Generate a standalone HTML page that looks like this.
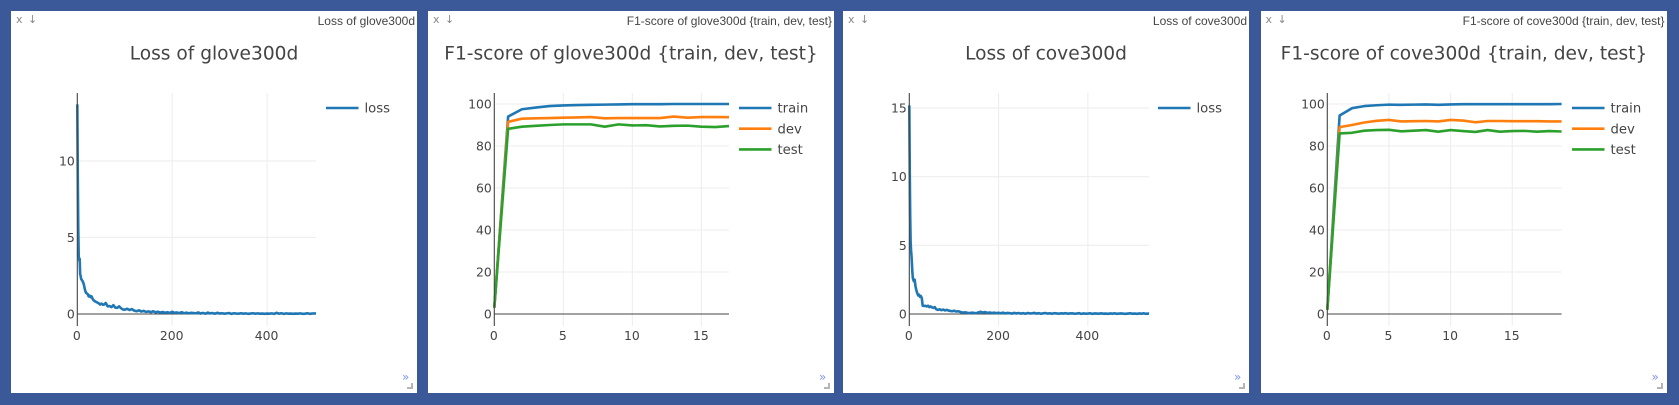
<!DOCTYPE html>
<html lang="en">
<head>
<meta charset="utf-8">
<title>Loss and F1-score charts</title>
<style>
html,body{margin:0;padding:0;width:1679px;height:405px;overflow:hidden;background:#3b5998;}
.panel{position:absolute;top:11px;width:406px;height:382px;background:#fff;overflow:hidden;}
.panel svg{position:absolute;left:0;top:0;width:406px;height:382px;}
.win-close,.win-down{position:absolute;top:2px;font:11px "DejaVu Sans",sans-serif;color:#888;cursor:pointer;}
.win-close{left:5px;}
.win-down{left:17px;}
.win-title{position:absolute;right:2px;top:3px;font:12px "Liberation Sans",sans-serif;color:#444;white-space:nowrap;}
.win-more{position:absolute;left:391px;top:359px;font:12px "DejaVu Sans",sans-serif;color:#8296ee;line-height:14px;cursor:pointer;}
.win-grip{position:absolute;left:396px;top:372px;width:4px;height:4px;border-right:2px solid #b5b5b5;border-bottom:2px solid #b5b5b5;cursor:se-resize;}
text{font-family:"DejaVu Sans",sans-serif;fill:#444;}
</style>
</head>
<body>

<div class="panel" style="left:11px">
  <span class="win-close">x</span>
  <span class="win-down">↓</span>
  <span class="win-title">Loss of glove300d</span>
  <svg id="chart-a"></svg>
  <span class="win-more">»</span>
  <span class="win-grip"></span>
</div>
<div class="panel" style="left:428px">
  <span class="win-close">x</span>
  <span class="win-down">↓</span>
  <span class="win-title">F1-score of glove300d {train, dev, test}</span>
  <svg id="chart-b"></svg>
  <span class="win-more">»</span>
  <span class="win-grip"></span>
</div>
<div class="panel" style="left:843px">
  <span class="win-close">x</span>
  <span class="win-down">↓</span>
  <span class="win-title">Loss of cove300d</span>
  <svg id="chart-c"></svg>
  <span class="win-more">»</span>
  <span class="win-grip"></span>
</div>
<div class="panel" style="left:1260.5px">
  <span class="win-close">x</span>
  <span class="win-down">↓</span>
  <span class="win-title">F1-score of cove300d {train, dev, test}</span>
  <svg id="chart-d"></svg>
  <span class="win-more">»</span>
  <span class="win-grip"></span>
</div>

<script>
const gloveLossSteps = [
  0,1,2,3,4,5,6,7,8,10,
  12,14,16,18,20,22,24,26,28,30,
  33,36,39,42,45,48,51,54,57,60,
  64,68,72,76,80,84,88,92,96,100,
  105,110,115,120,125,130,135,140,145,150,
  155,160,165,170,175,180,185,190,195,200,
  205,210,215,220,225,230,235,240,245,250,
  255,260,265,270,275,280,285,290,295,300,
  305,310,315,320,325,330,335,340,345,350,
  355,360,365,370,375,380,385,390,395,400,
  405,410,415,420,425,430,435,440,445,450,
  455,460,465,470,475,480,485,490,495,500,503
];
const gloveLoss = [
  13.7,9.2,5.6,3.8,3.5,3.6,2.6,2.5,2.3,2.2,
  2.1,1.9,1.6,1.4,1.35,1.3,1.15,1.2,1.1,1.15,
  .95,.85,.8,.75,.7,.62,.68,.6,.63,.72,
  .5,.52,.45,.58,.42,.4,.5,.38,.3,.28,
  .34,.26,.32,.22,.18,.24,.16,.2,.14,.17,
  .12,.18,.11,.15,.09,.13,.08,.11,.07,.14,
  .08,.1,.06,.12,.05,.09,.04,.08,.06,.05,
  .1,.03,.07,.02,.09,.04,.06,.02,.08,.03,
  .05,.02,.04,.06,.01,.05,.03,.02,.05,.02,
  .04,.01,.03,.05,.02,.04,.02,.03,.01,.03,
  .02,.04,.01,.08,.02,.05,.01,.04,.02,.03,
  .01,.03,.02,.04,.01,.02,.05,.01,.03,.04,.03
];
const coveLossSteps = [
  0,1,2,3,4,5,6,7,8,10,
  12,14,16,18,20,22,24,26,28,30,
  33,36,39,42,45,48,51,54,57,60,
  64,68,72,76,80,84,88,92,96,100,
  105,110,115,120,125,130,135,140,145,150,
  155,160,165,170,175,180,185,190,195,200,
  205,210,215,220,225,230,235,240,245,250,
  255,260,265,270,275,280,285,290,295,300,
  305,310,315,320,325,330,335,340,345,350,
  355,360,365,370,375,380,385,390,395,400,
  405,410,415,420,425,430,435,440,445,450,
  455,460,465,470,475,480,485,490,495,500,
  505,510,515,520,525,530,535,537
];
const coveLoss = [
  15.2,10.5,7.2,5.2,4.6,4.2,3.6,3.0,2.6,2.4,
  2.5,2.0,1.7,1.5,1.35,1.4,1.25,1.3,1.15,.6,
  .58,.6,.55,.6,.5,.55,.48,.45,.5,.35,
  .3,.34,.28,.32,.26,.3,.25,.22,.2,.24,
  .18,.2,.14,.1,.12,.09,.06,.1,.08,.05,
  .12,.16,.1,.14,.08,.11,.07,.1,.06,.09,
  .05,.1,.04,.08,.06,.03,.08,.04,.07,.03,
  .06,.02,.07,.04,.05,.08,.03,.06,.02,.05,
  .07,.03,.05,.02,.06,.04,.02,.05,.03,.06,
  .02,.04,.05,.02,.03,.06,.01,.04,.02,.03,
  .05,.01,.04,.03,.02,.05,.02,.03,.01,.04,
  .02,.05,.01,.03,.04,.02,.01,.03,.05,.02,
  .03,.01,.04,.02,.05,.01,.03,.02
];
const gloveEpochs = [0,1,2,3,4,5,6,7,8,9,10,11,12,13,14,15,16,17];
const gloveTrain = [3,94,97.5,98.3,99,99.3,99.5,99.6,99.7,99.8,99.9,99.9,99.9,100,100,100,100,100];
const gloveDev = [3,91.5,93,93.2,93.3,93.5,93.6,93.8,93.2,93.3,93.3,93.3,93.3,94,93.5,93.8,93.8,93.7];
const gloveTest = [3,88.2,89.2,89.6,90,90.3,90.3,90.3,89.2,90.3,89.8,89.9,89.3,89.6,89.7,89.2,89,89.5];
const coveEpochs = [0,1,2,3,4,5,6,7,8,9,10,11,12,13,14,15,16,17,18,19];
const coveTrain = [2,94.5,98,99,99.4,99.7,99.6,99.7,99.8,99.6,99.8,99.9,99.9,99.9,99.9,99.9,99.9,99.9,99.9,100];
const coveDev = [2,89,90,91.2,92,92.4,91.7,91.8,91.9,91.7,92.4,92.1,91.3,91.9,91.9,91.8,91.8,91.8,91.7,91.7];
const coveTest = [2,86,86.3,87.3,87.6,87.7,87,87.3,87.6,86.8,87.6,87.1,86.7,87.6,86.8,87.1,87.2,86.8,87.1,86.9];

const gloveLossXTicks = [0,200,400];
const gloveLossYTicks = [0,5,10];
const coveLossXTicks = [0,200,400];
const coveLossYTicks = [0,5,10,15];
const f1XTicks = [0,5,10,15];
const f1YTicks = [0,20,40,60,80,100];
const lossNames = ['loss'];
const f1Names = ['train','dev','test'];

const NS = 'http://www.w3.org/2000/svg';
const palette = ['#1f77b4','#ff7f0e','#2ca02c'];

function mk(parent, tag) {
  const el = document.createElementNS(NS, tag);
  parent.appendChild(el);
  return el;
}

function drawChart(svg, title, xs, seriesList, names, xTicks, yTicks, yDomain) {
  const plot = { left: 66.3, top: 82, bottom: 315 };
  const plotRight = plot.left + (xs === coveEpochs ? 234.3 : xs === coveLossSteps ? 239.7 : xs === gloveEpochs ? 234.7 : 238.7);
  const xMax = xs[xs.length - 1];
  const xScale = function (v) { return plot.left + v / xMax * (plotRight - plot.left); };
  const yScale = function (v) {
    return plot.bottom - (v - yDomain[0]) / (yDomain[1] - yDomain[0]) * (plot.bottom - plot.top);
  };

  const titleEl = mk(svg, 'text');
  
  
  titleEl.setAttribute('x', 203);
  titleEl.setAttribute('y', 48.5);
  titleEl.setAttribute('text-anchor', 'middle');
  titleEl.setAttribute('font-size', '18.6');
  titleEl.textContent = title;

  xTicks.forEach(function (t) {
    if (t !== 0) {
      const g = mk(svg, 'line');
      
      
      g.setAttribute('x1', xScale(t));
      g.setAttribute('x2', xScale(t));
      g.setAttribute('y1', plot.top);
      g.setAttribute('y2', plot.bottom);
      g.setAttribute('stroke', '#eee');
      g.setAttribute('stroke-width', '1.1');
    }
    const lab = mk(svg, 'text');
    
    
    lab.setAttribute('x', xScale(t) - 0.5);
    lab.setAttribute('y', 329);
    lab.setAttribute('text-anchor', 'middle');
    lab.setAttribute('font-size', '12.4');
    lab.textContent = String(t);
  });

  yTicks.forEach(function (t) {
    if (t !== 0) {
      const g = mk(svg, 'line');
      
      
      g.setAttribute('x1', plot.left);
      g.setAttribute('x2', plotRight);
      g.setAttribute('y1', yScale(t));
      g.setAttribute('y2', yScale(t));
      g.setAttribute('stroke', '#eee');
      g.setAttribute('stroke-width', '1.1');
    }
    const lab = mk(svg, 'text');
    
    
    lab.setAttribute('x', plot.left - 2.5);
    lab.setAttribute('y', yScale(t) + 4.5);
    lab.setAttribute('text-anchor', 'end');
    lab.setAttribute('font-size', '12.4');
    lab.textContent = String(t);
  });

  seriesList.forEach(function (vals, i) {
    const pts = vals.map(function (v, k) { return xScale(xs[k]).toFixed(2) + ',' + yScale(v).toFixed(2); });
    const line = mk(svg, 'polyline');
    
    
    line.setAttribute('points', pts.join(' '));
    line.setAttribute('fill', 'none');
    line.setAttribute('stroke', palette[i]);
    line.setAttribute('stroke-width', '2.6');
    line.setAttribute('stroke-linejoin', 'round');
  });

  const yAxis = mk(svg, 'line');
  
  
  yAxis.setAttribute('x1', plot.left);
  yAxis.setAttribute('x2', plot.left);
  yAxis.setAttribute('y1', plot.top);
  yAxis.setAttribute('y2', plot.bottom);
  yAxis.setAttribute('stroke', '#444');
  yAxis.setAttribute('stroke-width', '1.1');

  const xAxis = mk(svg, 'line');
  
  
  xAxis.setAttribute('x1', plot.left);
  xAxis.setAttribute('x2', plotRight);
  xAxis.setAttribute('y1', yScale(0));
  xAxis.setAttribute('y2', yScale(0));
  xAxis.setAttribute('stroke', '#444');
  xAxis.setAttribute('stroke-width', '1.1');
  svg.insertBefore(xAxis, svg.querySelector('polyline'));

  const legX = names.length > 1 ? 311 : 315;
  names.forEach(function (n, i) {
    const ly = 97 + i * 20.7;
    const sw = mk(svg, 'line');
    
    
    sw.setAttribute('x1', legX);
    sw.setAttribute('x2', legX + 32.5);
    sw.setAttribute('y1', ly);
    sw.setAttribute('y2', ly);
    sw.setAttribute('stroke', palette[i]);
    sw.setAttribute('stroke-width', '2.6');
    const tx = mk(svg, 'text');
    
    
    tx.setAttribute('x', legX + 38.5);
    tx.setAttribute('y', ly + 4.6);
    tx.setAttribute('font-size', '13.2');
    tx.textContent = n;
  });
}

drawChart(document.getElementById('chart-a'), 'Loss of glove300d', gloveLossSteps, [gloveLoss], lossNames, gloveLossXTicks, gloveLossYTicks, [-0.784, 14.44]);
drawChart(document.getElementById('chart-b'), 'F1-score of glove300d {train, dev, test}', gloveEpochs, [gloveTrain, gloveDev, gloveTest], f1Names, f1XTicks, f1YTicks, [-5.71, 105.24]);
drawChart(document.getElementById('chart-c'), 'Loss of cove300d', coveLossSteps, [coveLoss], lossNames, coveLossXTicks, coveLossYTicks, [-0.875, 16.1]);
drawChart(document.getElementById('chart-d'), 'F1-score of cove300d {train, dev, test}', coveEpochs, [coveTrain, coveDev, coveTest], f1Names, f1XTicks, f1YTicks, [-5.71, 105.24]);
</script>
</body>
</html>
